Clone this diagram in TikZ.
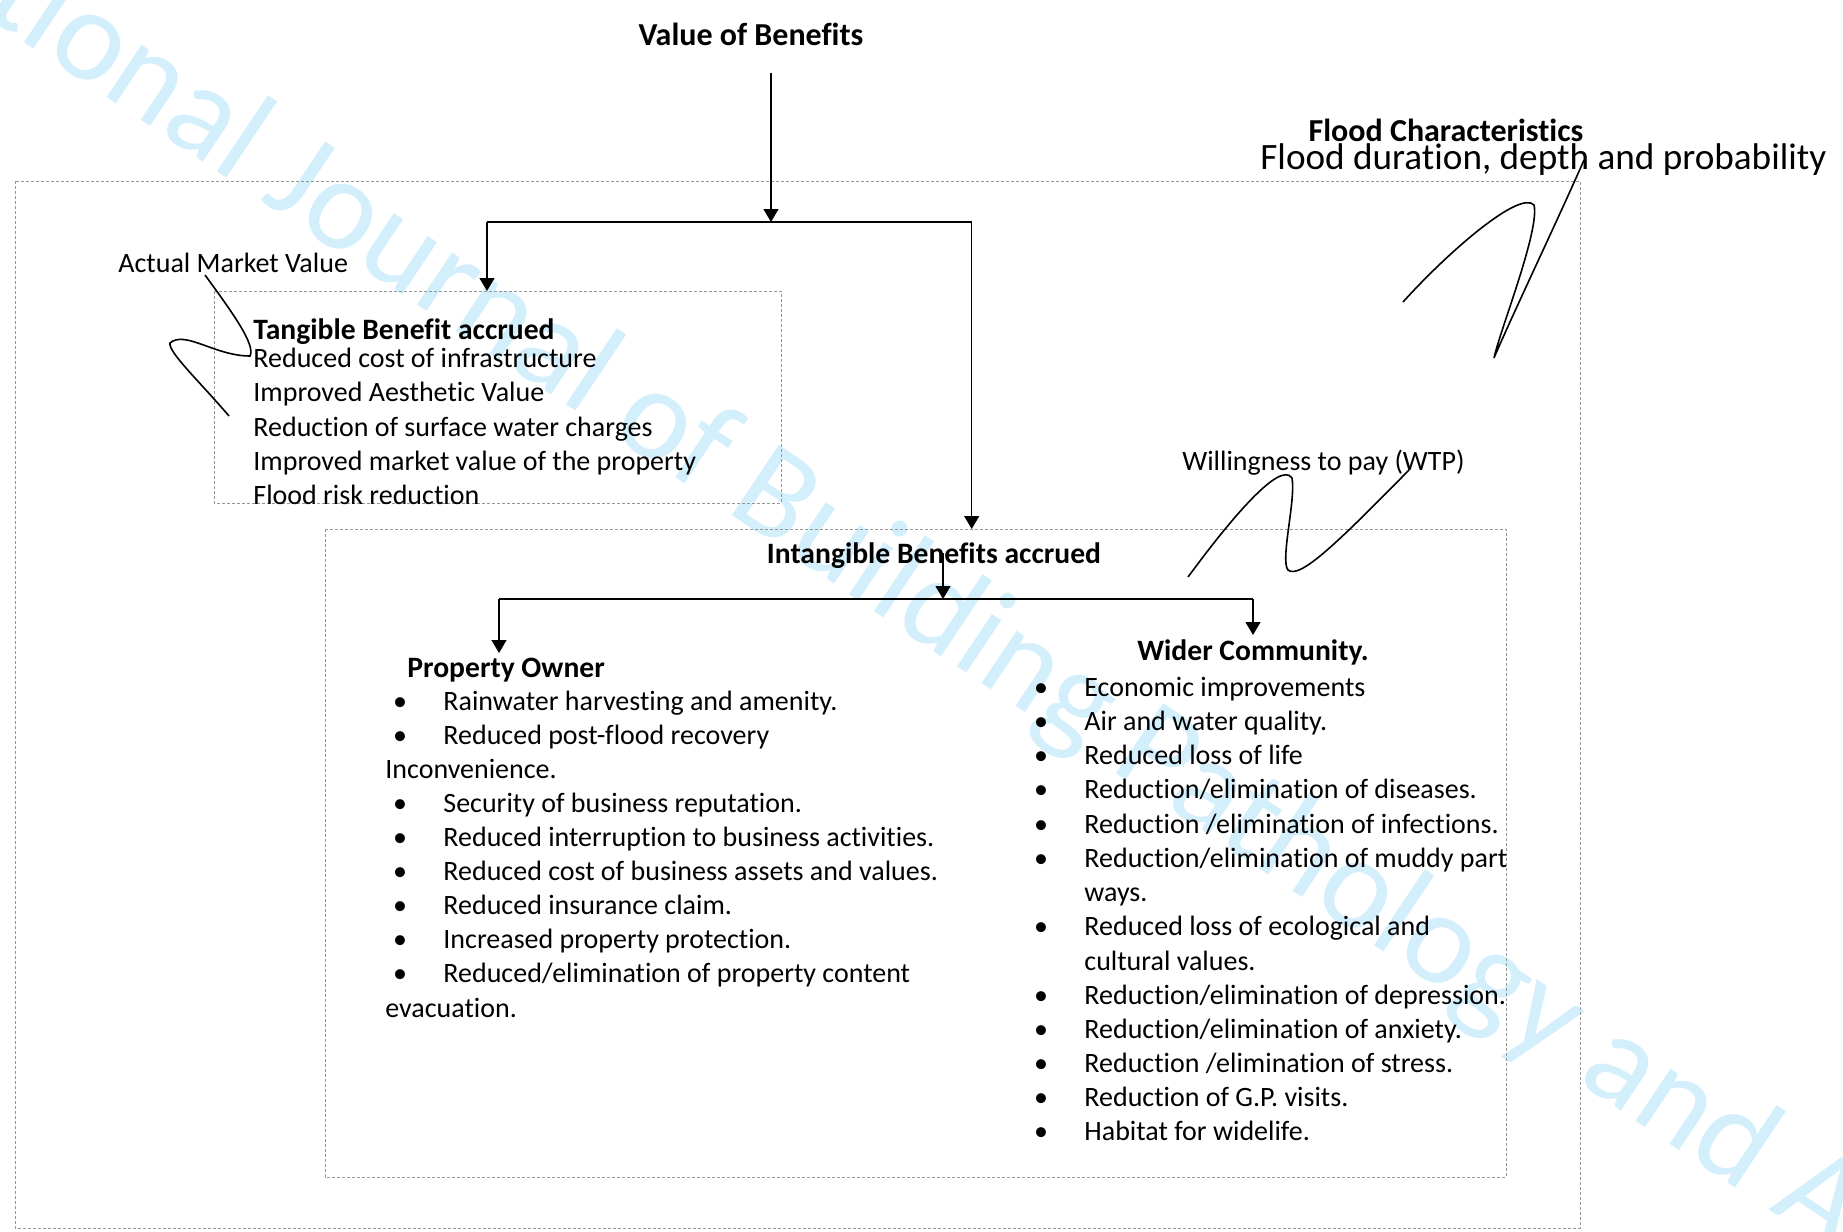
\documentclass[tikz,border=0pt]{standalone}
\usepackage{fontspec}
\setmainfont{Carlito}[Ligatures=NoCommon]
\usetikzlibrary{arrows.meta}
\definecolor{wm}{RGB}{212,239,252}
\definecolor{boxgray}{RGB}{150,150,150}
\begin{document}
\begin{tikzpicture}[x=0.5pt,y=-0.5pt,
  txt/.style={font=\fontsize{14pt}{17pt}\selectfont, inner sep=0pt, text height=11.3pt, text depth=2.8pt},
  btxt/.style={txt, font=\fontsize{14.8pt}{17pt}\selectfont\bfseries},
  dbox/.style={draw=boxgray, line width=0.5pt, dash pattern=on 1.5pt off 1pt},
  arr/.style={-{Triangle[width=7.5pt,length=6.5pt]}},
  vline/.style={line width=0.6pt},
  hline/.style={line width=1pt},
  squig/.style={line width=0.8pt},
  wmtxt/.style={font=\fontsize{66pt}{80pt}\selectfont, text=wm, inner sep=0pt}
]
\useasboundingbox (0,0) rectangle (1843,1232);
% watermark
\begin{scope}
\clip (0,0) rectangle (1843,1232);
\node[wmtxt, rotate=-33.8, anchor=base west] (wmark) at (-342,-203) {International Journal of Building Pathology and Adaptation};
\end{scope}

% dashed boxes
\coordinate (ob-nw) at (15,181);  \coordinate (ob-se) at (1580,1228);
\coordinate (tb-nw) at (214,291); \coordinate (tb-se) at (781,503);
\coordinate (ib-nw) at (325,529); \coordinate (ib-se) at (1506,1177);
\draw[dbox] (ob-nw) rectangle (ob-se);
\draw[dbox] (tb-nw) rectangle (tb-se);
\draw[dbox] (ib-nw) rectangle (ib-se);

% titles
\node[btxt, font=\fontsize{16pt}{19pt}\selectfont\bfseries] (vb) at (751,37) {Value of Benefits};
\node[btxt, font=\fontsize{16pt}{19pt}\selectfont\bfseries] (fc) at (1446,133) {Flood Characteristics};
\node[txt, font=\fontsize{18.6pt}{22pt}\selectfont, anchor=west] (fd) at (1260,161) {Flood duration, depth and probability};
\node[txt, anchor=west] (amv) at (118,264) {Actual Market Value};
\node[txt, anchor=west] (wtp) at (1182,462) {Willingness to pay (WTP)};

% tangible
\node[btxt, anchor=west] (tba) at (253,331) {Tangible Benefit accrued};
\node[txt, anchor=west] (t1) at (253,359) {Reduced cost of infrastructure};
\node[txt, anchor=west] (t2) at (253,393) {Improved Aesthetic Value};
\node[txt, anchor=west] (t3) at (253,427.5) {Reduction of surface water charges};
\node[txt, anchor=west] (t4) at (253,462) {Improved market value of the property};
\node[txt, anchor=west] (t5) at (253,496) {Flood risk reduction};

% intangible
\node[btxt] (iba) at (934,555) {Intangible Benefits accrued};
\node[btxt, anchor=west] (po) at (407,669) {Property Owner};
\node[btxt] (wc) at (1253,652) {Wider Community.};

% property owner list
\foreach \y/\t [count=\i] in {702/{Rainwater harvesting and amenity.},
  736/{Reduced post-flood recovery},
  804/{Security of business reputation.},
  838/{Reduced interruption to business activities.},
  872/{Reduced cost of business assets and values.},
  906/{Reduced insurance claim.},
  940/{Increased property protection.},
  974/{Reduced/elimination of property content}}{
  \node[txt] (pb\i) at (400,\y) {\textbullet};
  \node[txt, anchor=west] (pt\i) at (443,\y) {\t};
}
\node[txt, anchor=west] (pw1) at (385,770) {Inconvenience.};
\node[txt, anchor=west] (pw2) at (385,1008.5) {evacuation.};

% wider community list
\foreach \y/\t [count=\i] in {687.6/{Economic improvements},
  721.7/{Air and water quality.},
  755.8/{Reduced loss of life},
  789.9/{Reduction/elimination of diseases.},
  825.1/{Reduction /elimination of infections.},
  859.2/{Reduction/elimination of muddy part},
  927.4/{Reduced loss of ecological and},
  995.6/{Reduction/elimination of depression.},
  1029.6/{Reduction/elimination of anxiety.},
  1063.7/{Reduction /elimination of stress.},
  1097.8/{Reduction of G.P. visits.},
  1131.9/{Habitat for widelife.}}{
  \node[txt] (wb\i) at (1041,\y) {\textbullet};
  \node[txt, anchor=west] (wt\i) at (1084,\y) {\t};
}
\node[txt, anchor=west] (ww1) at (1084,893.3) {ways.};
\node[txt, anchor=west] (ww2) at (1084,961.5) {cultural values.};

% connectors
\coordinate (vbs) at (771,73);
\coordinate (j1) at (771,222);
\coordinate (j1L) at (487,222);
\coordinate (j1R) at (971.7,222);
\draw[hline] (j1L) -- (j1R);
\draw[vline, arr] (vbs) -- (j1);
\draw[vline, arr] (j1L) -- (j1L |- tb-nw);
\draw[vline, arr] (j1R) -- (j1R |- ib-nw);

\coordinate (ibs) at (943,553);
\coordinate (j2) at (943,599);
\coordinate (j2L) at (499,599);
\coordinate (j2R) at (1253,599);
\draw[hline] (j2L) -- (j2R);
\draw[vline, arr] (ibs) -- (j2);
\draw[vline, arr] (j2L) -- (499,653);
\draw[vline, arr] (j2R) -- (1253,635);

% callout squiggles
\coordinate (s1a) at (205,275);
\coordinate (s1b) at (229,416);
\draw[squig] (s1a) .. controls (232,312) and (256,345) .. (250,356)
  .. controls (215,356) and (185,330) .. (170,343)
  .. controls (168,352) and (200,382) .. (s1b);
\coordinate (s2a) at (1403,302);
\coordinate (s2b) at (1584,160);
\draw[squig] (s2a) .. controls (1450,250) and (1520,190) .. (1534,205)
  .. controls (1540,230) and (1500,330) .. (1494,358)
  .. controls (1510,320) and (1560,215) .. (s2b);
\coordinate (s3a) at (1188,577);
\coordinate (s3b) at (1409,470);
\draw[squig] (s3a) .. controls (1230,520) and (1280,460) .. (1292,478)
  .. controls (1296,500) and (1280,560) .. (1288,570)
  .. controls (1300,580) and (1340,540) .. (s3b);
\end{tikzpicture}
\end{document}
